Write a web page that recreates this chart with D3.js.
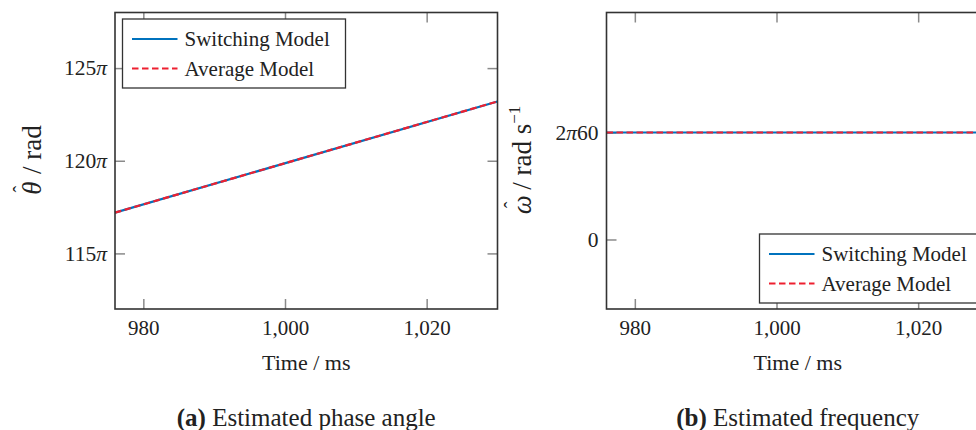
<!DOCTYPE html>
<html>
  <head>
    <meta charset="utf-8">
    <title>Estimated phase angle and frequency</title>
    <script src="https://d3js.org/d3.v7.min.js"></script>
    <style>
      body { margin: 0; background: #fff; }
      svg { display: block; overflow: hidden; }
      text { font-family: "Liberation Serif", "Times New Roman", serif; fill: #222; }
      .tick line { stroke: #8a8a8a; stroke-width: 1.5; }
      .domain { display: none; }
    </style>
  </head>
  <body>
    <div id="chart"></div>
    <script>
      // data
      var time = [976, 1030];                     // ms
      var thetaSwitching = [117.2, 123.2];        // in units of pi rad
      var thetaAverage = [117.2, 123.2];
      var omegaSwitching = [376.99, 376.99];      // rad/s (2*pi*60)
      var omegaAverage = [376.99, 376.99];
      var timeTicks = [980, 1000, 1020];
      var thetaTicks = [115, 120, 125];
      var omegaTicks = [0, 376.99];
      var omegaTickLabels = [["0", ""], ["2", "60"]];   // parts around the pi
      var seriesNames = ["Switching Model", "Average Model"];
      var seriesColors = ["rgb(0,114,189)", "#ee2030"];

      var W = 976, H = 430;
      var svg = d3.select("#chart").append("svg")
        .attr("width", W)
        .attr("height", H);

      // plot frame geometry (same for both panels)
      var frame = { left: 115, right: 497.5, top: 12.5, bottom: 309 };
      var panelOffset = [0, 491.5];

      // write "a pi b" with an italic pi
      function piLabel(sel, a, b, hasPi) {
        sel.text(null);
        sel.append("tspan").text(a);
        if (hasPi) sel.append("tspan").attr("font-style", "italic").text("\u03c0");
        if (b) sel.append("tspan").text(b);
      }

      function drawPanel(opts) {
        var g = svg.append("g")
          .attr("transform", "translate(" + opts.offset + ",0)");
        var x = d3.scaleLinear().domain([976, 1030]).range([frame.left, frame.right]);
        var y = d3.scaleLinear().domain(opts.yDomain).range([frame.bottom, frame.top]);
        var tick = 10;

        // axes: ticks pointing inwards on all four sides
        g.append("g")
          .attr("transform", "translate(0," + frame.bottom + ")")
          .call(d3.axisBottom(x).tickValues(timeTicks).tickSizeInner(-tick).tickSizeOuter(0)
            .tickPadding(11).tickFormat(d3.format(",")))
          .selectAll("text").attr("font-size", 21).attr("fill", "#222");
        g.append("g")
          .attr("transform", "translate(0," + frame.top + ")")
          .call(d3.axisTop(x).tickValues(timeTicks).tickSizeInner(-tick).tickSizeOuter(0).tickFormat(""));
        var ya = g.append("g")
          .attr("transform", "translate(" + frame.left + ",0)")
          .call(d3.axisLeft(y).tickValues(opts.yTicks).tickSizeInner(-tick).tickSizeOuter(0)
            .tickPadding(8));
        ya.selectAll("text")
          .attr("font-size", 21.5)
          .attr("fill", "#222")
          .each(function(d, i) { opts.yFormat(d3.select(this), d, i); });
        g.append("g")
          .attr("transform", "translate(" + frame.right + ",0)")
          .call(d3.axisRight(y).tickValues(opts.yTicks).tickSizeInner(-tick).tickSizeOuter(0).tickFormat(""));
        g.selectAll(".tick text").attr("font-family", "Liberation Serif");

        // data lines
        var line = d3.line()
          .x(function(d) { return x(d[0]); })
          .y(function(d) { return y(d[1]); });
        var plot = g.append("g");
        plot.append("path")
          .datum(d3.zip(time, opts.switching))
          .attr("d", line)
          .attr("fill", "none")
          .attr("stroke", seriesColors[0])
          .attr("stroke-width", 2.2);
        plot.append("path")
          .datum(d3.zip(time, opts.average))
          .attr("d", line)
          .attr("fill", "none")
          .attr("stroke", seriesColors[1])
          .attr("stroke-width", 2.2)
          .attr("stroke-dasharray", "6.5,3.5");

        // frame
        g.append("rect")
          .attr("x", frame.left)
          .attr("y", frame.top)
          .attr("width", frame.right - frame.left)
          .attr("height", frame.bottom - frame.top)
          .attr("fill", "none")
          .attr("stroke", "#333")
          .attr("stroke-width", 1.6);

        // legend
        var lw = 223, lh = 69;
        var lx = opts.legend == "nw" ? frame.left + 7.5 : frame.right - 6.5 - lw;
        var ly = opts.legend == "nw" ? frame.top + 6.5 : frame.bottom - 6 - lh;
        var leg = g.append("g").attr("transform", "translate(" + lx + "," + ly + ")");
        leg.append("rect")
          .attr("width", lw)
          .attr("height", lh)
          .attr("fill", "#fff")
          .attr("stroke", "#333")
          .attr("stroke-width", 1.3);
        seriesNames.forEach(function(name, i) {
          var ry = 20 + i * 29.5;
          leg.append("line")
            .attr("x1", 9.5).attr("x2", 55)
            .attr("y1", ry).attr("y2", ry)
            .attr("stroke", seriesColors[i])
            .attr("stroke-width", 2.2)
            .attr("stroke-dasharray", i == 1 ? "6.5,3.5" : null);
          leg.append("text")
            .attr("x", 62)
            .attr("y", ry + 7)
            .attr("font-size", 21)
            .text(name);
        });

        // axis titles
        var cx = (frame.left + frame.right) / 2;
        g.append("text")
          .attr("x", cx)
          .attr("y", 370)
          .attr("text-anchor", "middle")
          .attr("font-size", 22)
          .text("Time / ms");
        var yl = g.append("text")
          .attr("transform", "translate(" + opts.yLabelX + ",160) rotate(-90)")
          .attr("text-anchor", "middle")
          .attr("font-size", 27);
        opts.yLabel(yl);

        // caption
        var cap = g.append("text")
          .attr("x", cx)
          .attr("y", 426)
          .attr("text-anchor", "middle")
          .attr("font-size", 25);
        cap.append("tspan").attr("font-weight", "bold").text(opts.captionTag);
        cap.append("tspan").text(" " + opts.caption);
      }

      // (a) phase angle
      drawPanel({
        offset: panelOffset[0],
        yDomain: [112, 128],
        yTicks: thetaTicks,
        yFormat: function(t, d) { piLabel(t, String(d), "", true); },
        switching: thetaSwitching,
        average: thetaAverage,
        legend: "nw",
        yLabelX: 41,
        yLabel: function(t) {
          t.append("tspan").attr("font-style", "italic").text("\u03b8");
          t.append("tspan").attr("dx", -11).attr("dy", -13).attr("font-size", 20).text("\u02c6");
          t.append("tspan").attr("dx", 5).attr("dy", 13).text(" / rad");
        },
        captionTag: "(a)",
        caption: "Estimated phase angle"
      });

      // (b) frequency
      drawPanel({
        offset: panelOffset[1],
        yDomain: [-245, 800],
        yTicks: omegaTicks,
        yFormat: function(t, d, i) { piLabel(t, omegaTickLabels[i][0], omegaTickLabels[i][1], i > 0); },
        switching: omegaSwitching,
        average: omegaAverage,
        legend: "se",
        yLabelX: 39,
        yLabel: function(t) {
          t.append("tspan").attr("font-style", "italic").text("\u03c9");
          t.append("tspan").attr("dx", -13).attr("dy", -12).attr("font-size", 20).text("\u02c6");
          t.append("tspan").attr("dx", 5).attr("dy", 12).text(" / rad s");
          t.append("tspan").attr("font-size", 17).attr("dy", -11).text("\u22121");
        },
        captionTag: "(b)",
        caption: "Estimated frequency"
      });
    </script>
  </body>
</html>
